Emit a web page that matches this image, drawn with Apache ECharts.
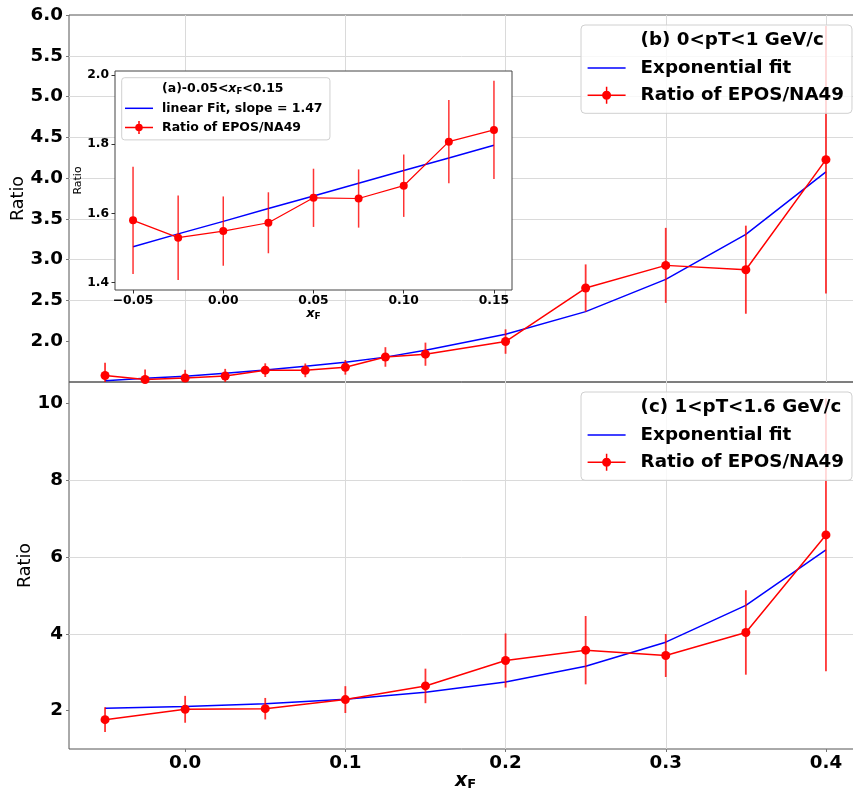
<!DOCTYPE html>
<html>
<head>
<meta charset="utf-8">
<script src="https://cdn.jsdelivr.net/npm/echarts@6/dist/echarts.min.js"></script>
<style>
  html, body { margin: 0; padding: 0; background: #fff; }
  #chart { width: 853px; height: 794px; }
</style>
</head>
<body>
<div id="chart"></div>
<script>
// ---- data: 0 < pT < 1 GeV/c (panel b, also used by the inset a) ----
const xTop     = [-0.05, -0.025, 0.0, 0.025, 0.05, 0.075, 0.1, 0.125, 0.15, 0.2, 0.25, 0.3, 0.35, 0.4];
const ratioTop = [1.580, 1.530, 1.549, 1.573, 1.645, 1.643, 1.680, 1.807, 1.841, 1.996, 2.652, 2.930, 2.877, 4.226];
const errTop   = [0.155, 0.122, 0.100, 0.088, 0.084, 0.084, 0.090, 0.120, 0.142, 0.150, 0.290, 0.460, 0.540, 1.640];
const fitTop   = [1.515, 1.546, 1.570, 1.607, 1.646, 1.692, 1.742, 1.805, 1.890, 2.086, 2.363, 2.758, 3.309, 4.076];

// ---- inset (a): -0.05 < xF < 0.15, linear fit ----
const nInset   = 9;
const linInset = [1.504, 1.541, 1.577, 1.614, 1.650, 1.687, 1.724, 1.760, 1.797];

// ---- data: 1 < pT < 1.6 GeV/c (panel c) ----
const xBot     = [-0.05, 0.0, 0.05, 0.1, 0.15, 0.2, 0.25, 0.3, 0.35, 0.4];
const ratioBot = [1.765, 2.034, 2.050, 2.287, 2.643, 3.305, 3.574, 3.436, 4.036, 6.577];
const errBot   = [0.32, 0.35, 0.28, 0.35, 0.45, 0.705, 0.89, 0.56, 1.10, 3.55];
const fitBot   = [2.060, 2.104, 2.180, 2.295, 2.478, 2.747, 3.157, 3.783, 4.740, 6.190];

// ---- tick labels ----
const xTicksMain  = [0.0, 0.1, 0.2, 0.3, 0.4];
const yTicksTop   = [2.0, 2.5, 3.0, 3.5, 4.0, 4.5, 5.0, 5.5, 6.0];
const yTicksBot   = [2, 4, 6, 8, 10];
const xTicksInset = [-0.05, 0.0, 0.05, 0.10, 0.15];
const yTicksInset = [1.4, 1.6, 1.8, 2.0];

const FONT = 'DejaVu Sans';
const RED = '#ff0000';
const RED_BAR = 'rgba(255,0,0,0.8)';
const BLUE = '#0000ff';
const MAIN_SIZE = 18.3;

const pairs = (xs, ys) => xs.map((x, i) => [x, ys[i]]);
const bars = (xs, ys, es) => xs.map((x, i) => [x, ys[i] - es[i], ys[i] + es[i]]);

function errorBars(width) {
  return function (params, api) {
    const x = api.value(0);
    const p1 = api.coord([x, api.value(1)]);
    const p2 = api.coord([x, api.value(2)]);
    return {
      type: 'line',
      shape: { x1: p1[0], y1: p1[1], x2: p2[0], y2: p2[1] },
      style: { stroke: RED_BAR, lineWidth: width }
    };
  };
}

// legend glyphs (the leading moves fix the glyph box, leaving room before the text)
const iconLineMain = 'path://M0,0 M48,18 M0,8.25 H38 V9.75 H0 Z';
const iconErrMain = 'path://M0,0 M48,18 M0,8.25 H38 V9.75 H0 Z M18.25,0.5 H19.75 V17.5 H18.25 Z ' +
                    'M23.5,9 A4.5,4.5 0 1,1 14.5,9 A4.5,4.5 0 1,1 23.5,9 Z';
const iconLineIn = 'path://M0,0 M32,14 M0,6.25 H28 V7.75 H0 Z';
const iconErrIn = 'path://M0,0 M32,14 M0,6.25 H28 V7.75 H0 Z M13.25,0.5 H14.75 V13.5 H13.25 Z ' +
                  'M17.8,7 A3.8,3.8 0 1,1 10.2,7 A3.8,3.8 0 1,1 17.8,7 Z';

const tickLabelMain = { fontFamily: FONT, fontSize: MAIN_SIZE, fontWeight: 'bold', color: '#000' };
const tickLabelIn = { fontFamily: FONT, fontSize: 12.3, fontWeight: 'bold', color: '#000' };
const gridLine = { show: true, showMinLine: false, showMaxLine: false, lineStyle: { color: '#dadada', width: 1 } };
const mainTick = { show: true, length: 3, lineStyle: { color: '#777', width: 1 } };
const noLine = { show: false, onZero: false };

function mainLegend(top, title) {
  return {
    orient: 'vertical', left: 581, top: top,
    padding: [6.7, 8, 9, 6.6],
    itemWidth: 48, itemHeight: 18, itemGap: 9.3,
    backgroundColor: 'rgba(255,255,255,0.8)', borderColor: '#d0d0d0', borderWidth: 1, borderRadius: 4,
    selectedMode: false,
    itemStyle: { borderWidth: 0 },
    textStyle: { fontFamily: FONT, fontSize: MAIN_SIZE, fontWeight: 'bold', color: '#000', lineHeight: 18, padding: 0 },
    data: [
      { name: title, icon: 'rect', itemStyle: { color: 'rgba(0,0,0,0)', borderWidth: 0 } },
      { name: 'Exponential fit', icon: iconLineMain, itemStyle: { color: BLUE, borderWidth: 0 } },
      { name: 'Ratio of EPOS/NA49', icon: iconErrMain, itemStyle: { color: RED, borderWidth: 0 } }
    ],
    z: 4
  };
}

const titleB = '(b) 0<pT<1 GeV/c';
const titleC = '(c) 1<pT<1.6 GeV/c';
const titleA = '(a)-0.05<xF<0.15';
const fitLabelA = 'linear Fit, slope = 1.47';

const option = {
  animation: false,
  backgroundColor: '#fff',
  grid: [
    { left: 69, top: 15, right: -9, bottom: 412, show: true, borderColor: '#555', borderWidth: 1,
      backgroundColor: 'rgba(0,0,0,0)', outerBoundsMode: 'none', containLabel: false },
    { left: 69, top: 382, right: -9, bottom: 45, show: true, borderColor: '#555', borderWidth: 1,
      backgroundColor: 'rgba(0,0,0,0)', outerBoundsMode: 'none', containLabel: false },
    { left: 115, top: 71, right: 341, bottom: 504, show: true, borderColor: '#444', borderWidth: 1,
      backgroundColor: '#fff', z: 5, outerBoundsMode: 'none', containLabel: false }
  ],
  xAxis: [
    { gridIndex: 0, type: 'value', min: -0.0725, max: 0.4225, minInterval: 0.1, maxInterval: 0.1,
      axisLine: noLine, axisTick: { show: false }, axisLabel: { show: false },
      splitLine: gridLine },
    { gridIndex: 1, type: 'value', min: -0.0725, max: 0.4225, minInterval: 0.1, maxInterval: 0.1,
      axisLine: noLine,
      axisTick: Object.assign({ customValues: xTicksMain }, mainTick),
      axisLabel: Object.assign({ customValues: xTicksMain, margin: 5, formatter: v => v.toFixed(1) }, tickLabelMain),
      splitLine: gridLine,
      name: '{x|x}{f|F}', nameLocation: 'middle', nameGap: 22, nameMoveOverlap: false,
      nameTextStyle: { rich: {
        x: { fontFamily: FONT, fontSize: 19, fontWeight: 'bold', fontStyle: 'italic', color: '#000' },
        f: { fontFamily: FONT, fontSize: 13, fontWeight: 'bold', color: '#000', padding: [7, 0, 0, 0] }
      } } },
    { gridIndex: 2, type: 'value', min: -0.06, max: 0.16, z: 6,
      axisLine: noLine,
      axisTick: { show: true, customValues: xTicksInset, length: 3.5, lineStyle: { color: '#333' } },
      axisLabel: Object.assign({ customValues: xTicksInset, margin: 5,
        formatter: v => v.toFixed(2).replace('-', '\u2212') }, tickLabelIn),
      splitLine: { show: false },
      name: '{x|x}{f|F}', nameLocation: 'middle', nameGap: 17, nameMoveOverlap: false,
      nameTextStyle: { rich: {
        x: { fontFamily: FONT, fontSize: 13, fontWeight: 'bold', fontStyle: 'italic', color: '#000' },
        f: { fontFamily: FONT, fontSize: 9, fontWeight: 'bold', color: '#000', padding: [5, 0, 0, 0] }
      } } }
  ],
  yAxis: [
    { gridIndex: 0, type: 'value', min: 1.5, max: 6.0, interval: 0.5,
      axisLine: noLine,
      axisTick: Object.assign({ customValues: yTicksTop }, mainTick),
      axisLabel: Object.assign({ customValues: yTicksTop, margin: 6, formatter: v => v.toFixed(1) }, tickLabelMain),
      splitLine: gridLine,
      name: 'Ratio', nameLocation: 'middle', nameRotate: 90, nameGap: 42, nameMoveOverlap: false,
      nameTextStyle: { fontFamily: FONT, fontSize: 17.5, color: '#000' } },
    { gridIndex: 1, type: 'value', min: 1.0, max: 10.56, splitNumber: 5, minInterval: 2, maxInterval: 2,
      axisLine: noLine,
      axisTick: Object.assign({ customValues: yTicksBot }, mainTick),
      axisLabel: Object.assign({ customValues: yTicksBot, margin: 6, formatter: v => String(v) }, tickLabelMain),
      splitLine: gridLine,
      name: 'Ratio', nameLocation: 'middle', nameRotate: 90, nameGap: 35, nameMoveOverlap: false,
      nameTextStyle: { fontFamily: FONT, fontSize: 17.5, color: '#000' } },
    { gridIndex: 2, type: 'value', min: 1.379, max: 2.011, z: 6,
      axisLine: noLine,
      axisTick: { show: true, customValues: yTicksInset, length: 3.5, lineStyle: { color: '#333' } },
      axisLabel: Object.assign({ customValues: yTicksInset, margin: 6, formatter: v => v.toFixed(1) }, tickLabelIn),
      splitLine: { show: false },
      name: 'Ratio', nameLocation: 'middle', nameRotate: 90, nameGap: 31, nameMoveOverlap: false,
      nameTextStyle: { fontFamily: FONT, fontSize: 11, color: '#000' } }
  ],
  legend: [
    mainLegend(25, titleB),
    mainLegend(392, titleC),
    {
      orient: 'vertical', left: 121.7, top: 77.7,
      padding: [4.3, 7.4, 5.3, 3.3],
      itemWidth: 32, itemHeight: 14, itemGap: 5.3,
      backgroundColor: 'rgba(255,255,255,0.8)', borderColor: '#d0d0d0', borderWidth: 1, borderRadius: 3,
      selectedMode: false,
      itemStyle: { borderWidth: 0 },
      formatter: function (name) {
        return name === titleA ? '(a)-0.05<{i|x}{s|F}<0.15' : name;
      },
      textStyle: { fontFamily: FONT, fontSize: 12.5, fontWeight: 'bold', color: '#000', lineHeight: 14,
        rich: {
          i: { fontFamily: FONT, fontSize: 12.5, fontWeight: 'bold', fontStyle: 'italic', color: '#000' },
          s: { fontFamily: FONT, fontSize: 8.5, fontWeight: 'bold', color: '#000', padding: [5, 0, 0, 0] }
        } },
      data: [
        { name: titleA, icon: 'rect', itemStyle: { color: 'rgba(0,0,0,0)', borderWidth: 0 } },
        { name: fitLabelA, icon: iconLineIn, itemStyle: { color: BLUE, borderWidth: 0 } },
        { name: 'Ratio of EPOS/NA49', icon: iconErrIn, itemStyle: { color: RED, borderWidth: 0 } }
      ],
      z: 10
    }
  ],
  series: [
    // panel (b)
    { type: 'line', name: titleB, xAxisIndex: 0, yAxisIndex: 0, data: [] },
    { type: 'line', name: 'Exponential fit', xAxisIndex: 0, yAxisIndex: 0, data: pairs(xTop, fitTop),
      symbol: 'none', lineStyle: { color: BLUE, width: 1.5 }, itemStyle: { color: BLUE }, z: 2, silent: true },
    { type: 'custom', name: 'Ratio of EPOS/NA49', xAxisIndex: 0, yAxisIndex: 0, clip: true,
      data: bars(xTop, ratioTop, errTop), encode: { x: 0, y: [1, 2] },
      renderItem: errorBars(1.8), itemStyle: { color: RED }, z: 3, silent: true },
    { type: 'line', name: 'Ratio of EPOS/NA49', xAxisIndex: 0, yAxisIndex: 0, data: pairs(xTop, ratioTop),
      symbol: 'circle', symbolSize: 9, showSymbol: true, lineStyle: { color: RED, width: 1.5 },
      itemStyle: { color: RED }, z: 4, silent: true },

    // panel (c)
    { type: 'line', name: titleC, xAxisIndex: 1, yAxisIndex: 1, data: [] },
    { type: 'line', name: 'Exponential fit', xAxisIndex: 1, yAxisIndex: 1, data: pairs(xBot, fitBot),
      symbol: 'none', lineStyle: { color: BLUE, width: 1.5 }, itemStyle: { color: BLUE }, z: 2, silent: true },
    { type: 'custom', name: 'Ratio of EPOS/NA49', xAxisIndex: 1, yAxisIndex: 1, clip: true,
      data: bars(xBot, ratioBot, errBot), encode: { x: 0, y: [1, 2] },
      renderItem: errorBars(1.8), itemStyle: { color: RED }, z: 3, silent: true },
    { type: 'line', name: 'Ratio of EPOS/NA49', xAxisIndex: 1, yAxisIndex: 1, data: pairs(xBot, ratioBot),
      symbol: 'circle', symbolSize: 9, showSymbol: true, lineStyle: { color: RED, width: 1.5 },
      itemStyle: { color: RED }, z: 4, silent: true },

    // inset (a)
    { type: 'line', name: titleA, xAxisIndex: 2, yAxisIndex: 2, data: [] },
    { type: 'line', name: fitLabelA, xAxisIndex: 2, yAxisIndex: 2,
      data: pairs(xTop.slice(0, nInset), linInset),
      symbol: 'none', lineStyle: { color: BLUE, width: 1.5 }, itemStyle: { color: BLUE }, z: 7, silent: true },
    { type: 'custom', name: 'Ratio of EPOS/NA49', xAxisIndex: 2, yAxisIndex: 2, clip: true,
      data: bars(xTop.slice(0, nInset), ratioTop.slice(0, nInset), errTop.slice(0, nInset)),
      encode: { x: 0, y: [1, 2] },
      renderItem: errorBars(1.5), itemStyle: { color: RED }, z: 8, silent: true },
    { type: 'line', name: 'Ratio of EPOS/NA49', xAxisIndex: 2, yAxisIndex: 2,
      data: pairs(xTop.slice(0, nInset), ratioTop.slice(0, nInset)),
      symbol: 'circle', symbolSize: 8, showSymbol: true, lineStyle: { color: RED, width: 1.2 },
      itemStyle: { color: RED }, z: 9, silent: true }
  ]
};

const chart = echarts.init(document.getElementById('chart'), null, { renderer: 'canvas' });
chart.setOption(option);
</script>
</body>
</html>
